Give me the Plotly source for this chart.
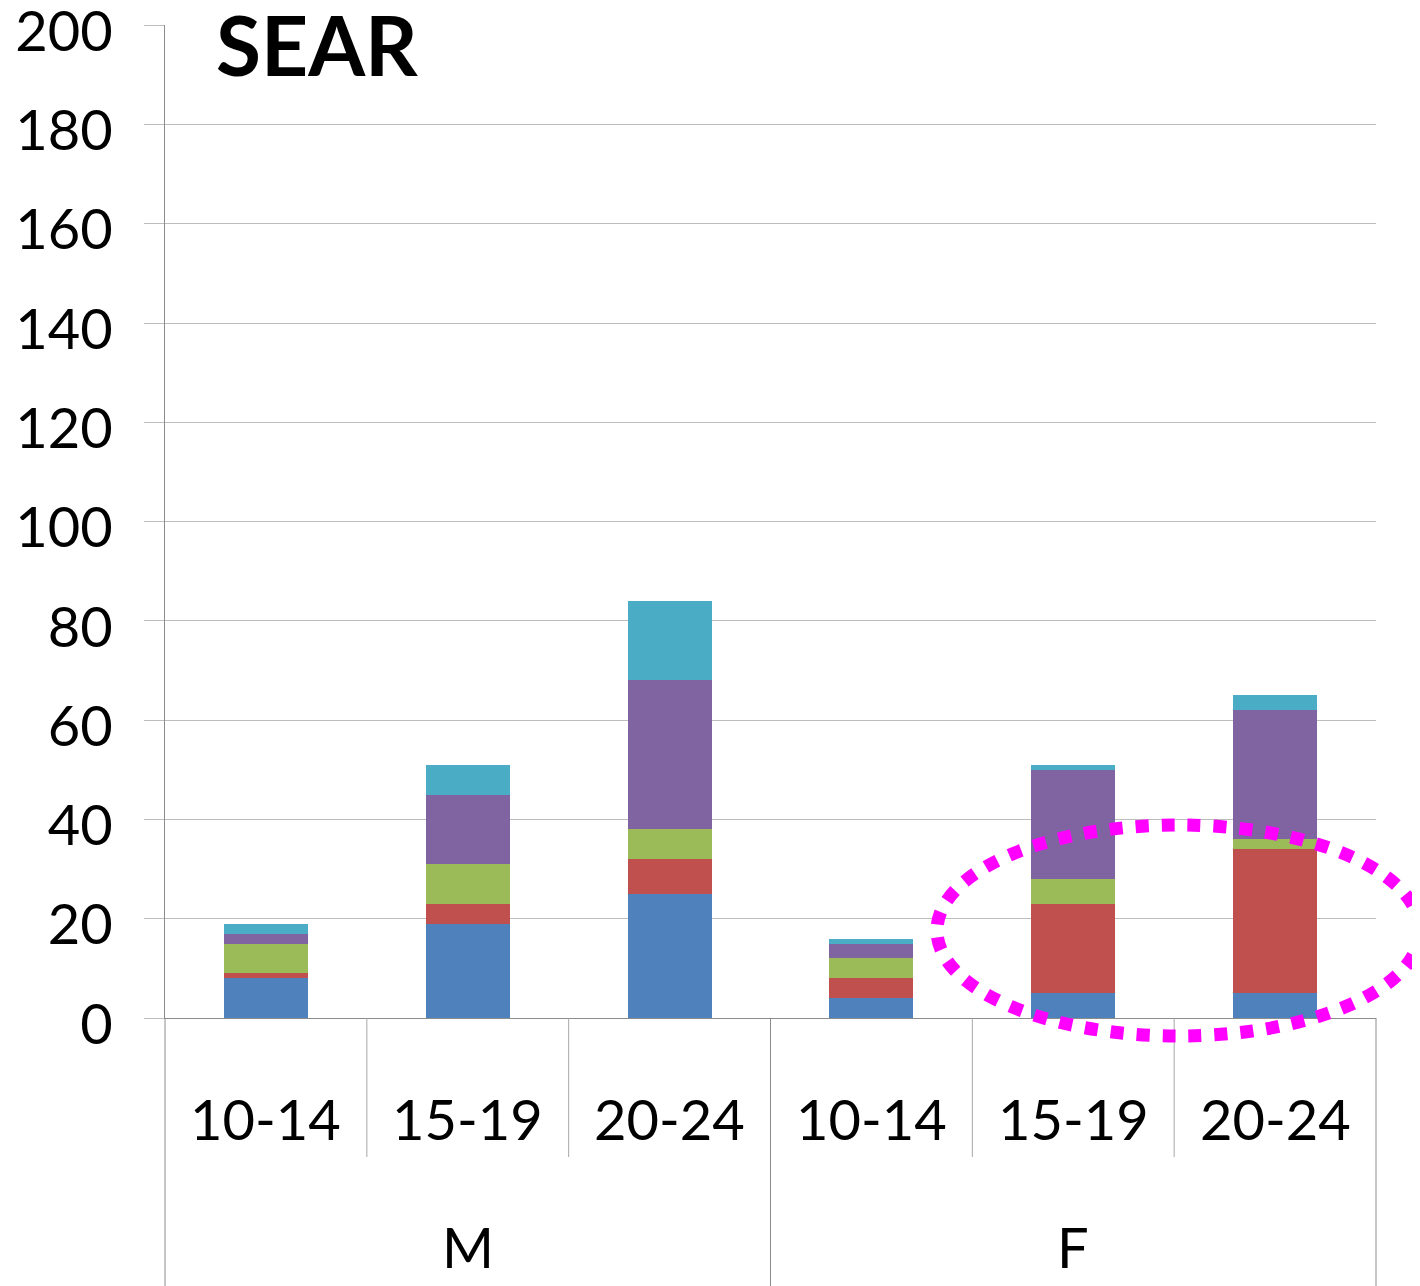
import plotly.graph_objects as go

# ---- data ----
groups = ["M", "M", "M", "F", "F", "F"]
age_groups = ["10-14", "15-19", "20-24", "10-14", "15-19", "20-24"]
series_names = ["Series 1", "Series 2", "Series 3", "Series 4", "Series 5"]
series1 = [8, 19, 25, 4, 5, 5]
series2 = [1, 4, 7, 4, 18, 29]
series3 = [6, 8, 6, 4, 5, 2]
series4 = [2, 14, 30, 3, 22, 26]
series5 = [2, 6, 16, 1, 1, 3]
y_ticks = [0, 20, 40, 60, 80, 100, 120, 140, 160, 180, 200]
title_text = "SEAR"

colors = ["#4F81BD", "#C0504D", "#9BBB59", "#8064A2", "#4BACC6"]
FONT = "Lato, 'Open Sans', sans-serif"
GRID = "#BDBDBD"
AXIS = "#8C8C8C"

# page has an 8px body margin; work in page pixels and convert
OFF = 8
W, H = 1420 - OFF, 1286 - OFF
L, R, T, B = 165, 1376, 25, 1018  # plot area in page pixels
plot_w = R - L
plot_h = B - T


def px(xp):
    return (xp - L) / plot_w


def py(yp):
    return (B - yp) / plot_h


x_pos = list(range(len(age_groups)))
fig = go.Figure()
for name, vals, col in zip(series_names, [series1, series2, series3, series4, series5], colors):
    fig.add_trace(go.Bar(x=x_pos, y=vals, name=name, marker=dict(color=col, line=dict(width=0)),
                         hovertemplate="%{y}<extra>" + name + "</extra>"))

n = len(age_groups)

shapes = []
for k in range(n + 1):
    is_group_edge = (k == 0) or (k == n) or (groups[k - 1] != groups[k])
    shapes.append(dict(type="line", xref="paper", yref="paper", x0=k / n, x1=k / n,
                       y0=0, y1=py(1290) if is_group_edge else py(1157),
                       line=dict(color=AXIS if is_group_edge else "#A6A6A6", width=1)))
# highlight ellipse
shapes.append(dict(type="circle", xref="paper", yref="paper", layer="above",
                   x0=px(937), x1=px(1420), y0=py(1036), y1=py(825),
                   line=dict(color="#FF00FF", width=13, dash="13px,13px")))

annotations = []
for i, lab in enumerate(age_groups):
    annotations.append(dict(x=i, xref="x", y=py(1118), yref="paper",
                            text=lab, showarrow=False, xanchor="center", yanchor="middle",
                            font=dict(family=FONT, size=56, color="black")))
seen = []
for g in groups:
    if g not in seen:
        seen.append(g)
for g in seen:
    idx = [i for i, gg in enumerate(groups) if gg == g]
    cx = (min(idx) + max(idx) + 1) / 2 / n
    annotations.append(dict(x=cx, xref="paper", y=py(1246), yref="paper",
                            text=g, showarrow=False, xanchor="center", yanchor="middle",
                            font=dict(family=FONT, size=56, color="black")))
annotations.append(dict(x=px(317), xref="paper", y=py(44), yref="paper",
                        text="<b>" + title_text + "</b>", showarrow=False, xanchor="center",
                        yanchor="middle", font=dict(family=FONT, size=82, color="black")))

fig.update_layout(
    width=W, height=H,
    margin=dict(l=L - OFF, r=W - (R - OFF), t=T - OFF, b=H - (B - OFF), pad=0, autoexpand=False),
    barmode="stack", bargap=0.584,
    showlegend=False,
    plot_bgcolor="white", paper_bgcolor="white",
    shapes=shapes, annotations=annotations,
    font=dict(family=FONT, color="black"),
)
fig.update_xaxes(range=[-0.5, n - 0.5], showticklabels=False, ticks="", showgrid=False,
                 zeroline=False, showline=True, linecolor=AXIS, linewidth=1, automargin=False)
fig.update_yaxes(range=[0, 200.05], tickvals=y_ticks, ticks="outside", ticklen=20, tickcolor=GRID,
                 tickwidth=1, showgrid=True, gridcolor=GRID, gridwidth=1, zeroline=False,
                 showline=True, linecolor=AXIS, linewidth=1, ticklabelstandoff=20,
                 ticklabelshift=6,
                 automargin=False, ticklabeloverflow="allow",
                 tickfont=dict(family=FONT, size=56, color="black"))

fig.write_html("out.html")
